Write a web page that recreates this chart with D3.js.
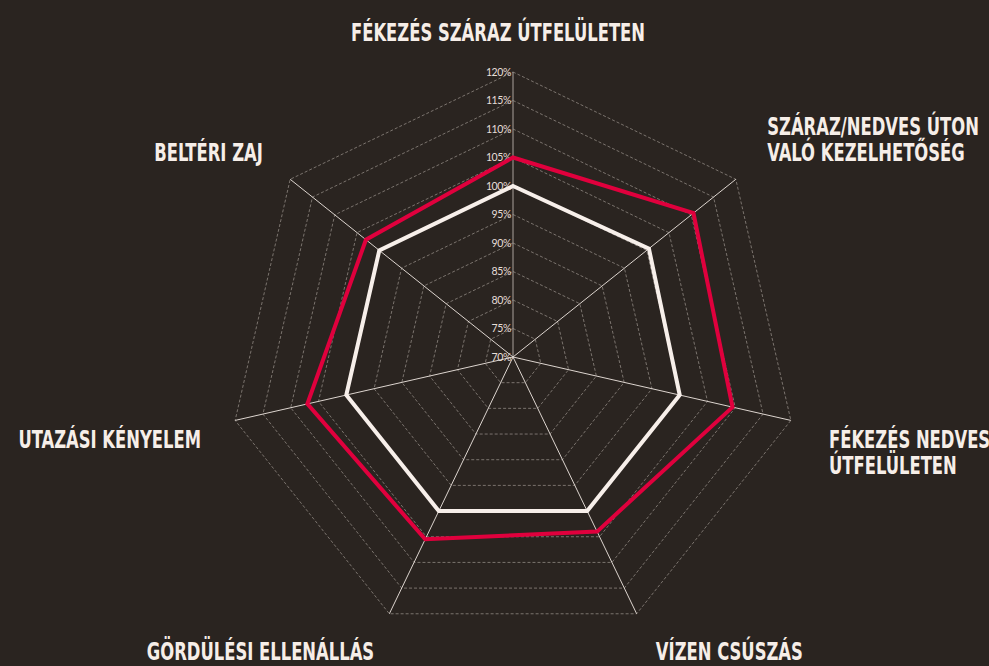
<!DOCTYPE html>
<html>
<head>
<meta charset="utf-8">
<script src="https://cdn.jsdelivr.net/npm/d3@7"></script>
<style>
  html, body { margin: 0; padding: 0; background: #2a2420; }
  svg { display: block; }
  .cat-label { font-family: "Liberation Sans Narrow", "DejaVu Sans Condensed", sans-serif; font-weight: bold; fill: #f6eee8; }
  .tick-label { font-family: Lato, "Open Sans", sans-serif; fill: #e6ded8; }
</style>
</head>
<body>
<div id="radar"></div>
<script>
// DATA
const categories = [
  "FÉKEZÉS SZÁRAZ ÚTFELÜLETEN",
  "SZÁRAZ/NEDVES ÚTON\nVALÓ KEZELHETŐSÉG",
  "FÉKEZÉS NEDVES\nÚTFELÜLETEN",
  "VÍZEN CSÚSZÁS",
  "GÖRDÜLÉSI ELLENÁLLÁS",
  "UTAZÁSI KÉNYELEM",
  "BELTÉRI ZAJ"
];
const referenceValues = [100, 100.5, 100, 100, 100, 100, 100];
const productValues = [105, 110.5, 109.5, 104, 105.5, 107, 103];
const tickValues = [70, 75, 80, 85, 90, 95, 100, 105, 110, 115, 120];

// CANVAS
const WIDTH = 989;
const HEIGHT = 666;
const CX = 513;
const CY = 357;
const RADIUS = 285;
const LABEL_R = 320;

const svg = d3
  .select("#radar")
  .append("svg")
  .attr("width", WIDTH)
  .attr("height", HEIGHT);

svg.append("rect").attr("width", WIDTH).attr("height", HEIGHT).attr("fill", "#2a2420");

const chart = svg.append("g").attr("transform", `translate(${CX}, ${CY})`);

// SCALE
const r = d3.scaleLinear().domain([70, 120]).range([0, RADIUS]);
const angle = d3
  .scaleLinear()
  .domain([0, categories.length])
  .range([0, 2 * Math.PI]);

const pt = (i, v) => [
  r(v) * Math.sin(angle(i)),
  -r(v) * Math.cos(angle(i))
];

// GRID
chart
  .selectAll(".grid")
  .data(tickValues.slice(1))
  .enter()
  .append("path")
  .attr("class", "grid")
  .attr("d", (t) =>
    d3.line().curve(d3.curveLinearClosed)(categories.map((c, i) => pt(i, t)))
  )
  .attr("fill", "none")
  .attr("stroke", "#8f8882")
  .attr("stroke-width", 0.8)
  .attr("stroke-dasharray", "3,2");

// AXES
chart
  .selectAll(".axis")
  .data(categories)
  .enter()
  .append("line")
  .attr("class", "axis")
  .attr("x1", 0)
  .attr("y1", 0)
  .attr("x2", (d, i) => pt(i, 120)[0])
  .attr("y2", (d, i) => pt(i, 120)[1])
  .attr("stroke", (d, i) => (i === 0 ? "#a9a19b" : "#ddd5cf"))
  .attr("stroke-width", 1);

// TICK LABELS
chart
  .selectAll(".tick-label")
  .data(tickValues)
  .enter()
  .append("text")
  .attr("class", "tick-label")
  .attr("x", -2)
  .attr("y", (t) => -r(t))
  .attr("dy", "0.35em")
  .attr("text-anchor", "end")
  .attr("font-size", "10.5px")
  .attr("letter-spacing", "-0.4px")
  .text((t) => `${t}%`);

// SERIES
const radarLine = d3
  .lineRadial()
  .angle((d, i) => angle(i))
  .radius((d) => r(d))
  .curve(d3.curveLinearClosed);

chart
  .append("path")
  .attr("d", radarLine(referenceValues))
  .attr("fill", "none")
  .attr("stroke", "#f7efea")
  .attr("stroke-width", 4)
  .attr("stroke-linejoin", "miter");

chart
  .append("path")
  .attr("d", radarLine(productValues))
  .attr("fill", "none")
  .attr("stroke", "#e0003d")
  .attr("stroke-width", 4)
  .attr("stroke-linejoin", "miter");

// CATEGORY LABELS
const LINE_H = 26;
const maxBase = HEIGHT - CY - 6;
categories.forEach((c, i) => {
  const a = angle(i);
  const sx = Math.sin(a);
  const cy = -Math.cos(a);
  const lines = c.split("\n");
  let x = LABEL_R * sx;
  const y = LABEL_R * cy;
  let anchor = "middle";
  if (sx > 0.1) {
    anchor = "start";
    x += 4;
  } else if (sx < -0.1) {
    anchor = "end";
  } else x -= 15;
  // labels above the centre grow upwards, below grow downwards
  const firstBase =
    cy < 0
      ? y + 4 - (lines.length - 1) * LINE_H
      : Math.min(y + 20, maxBase);
  const g = chart
    .append("g")
    .attr("transform", `translate(${x}, ${firstBase}) scale(0.76, 1)`);
  const txt = g
    .append("text")
    .attr("class", "cat-label")
    .attr("text-anchor", anchor)
    .attr("font-size", "24px");
  lines.forEach((l, k) => {
    txt
      .append("tspan")
      .attr("x", 0)
      .attr("y", k * LINE_H)
      .text(l);
  });
});
</script>
</body>
</html>
